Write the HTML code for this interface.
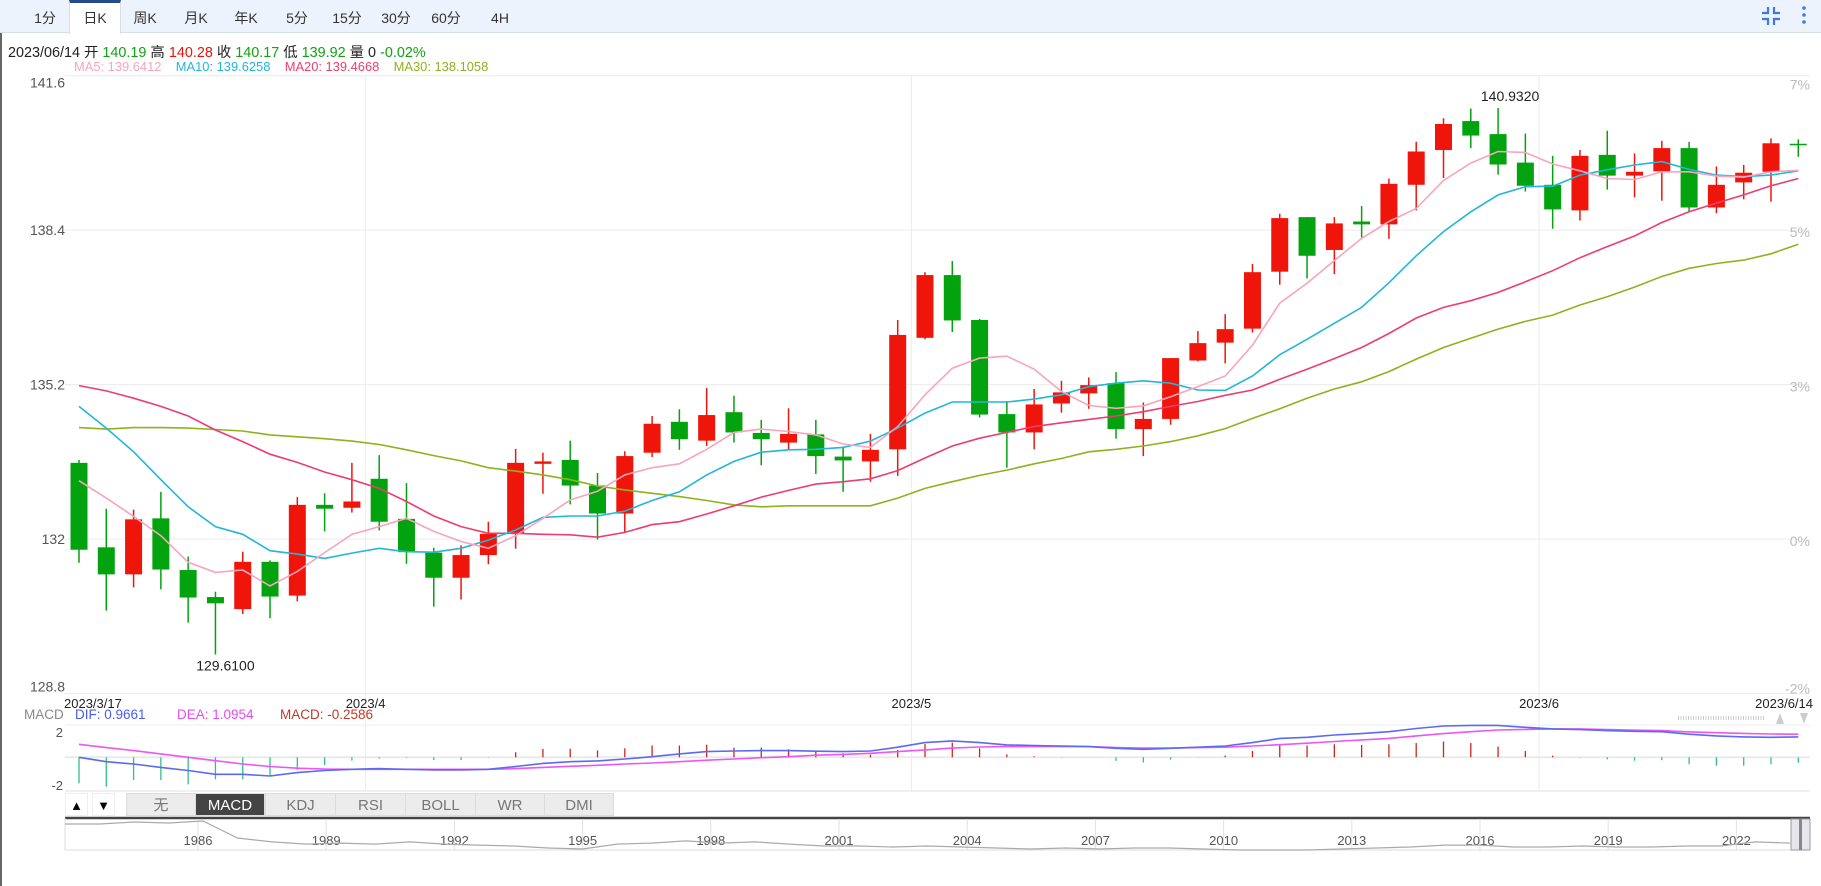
<!DOCTYPE html>
<html><head><meta charset="utf-8">
<style>
body{margin:0;background:#fff;}
#root{position:relative;width:1821px;height:886px;overflow:hidden;background:#fff;font-family:"Liberation Sans","Noto Sans CJK SC",sans-serif;}
.abs{position:absolute;}
#tabbar{left:0;top:0;width:1821px;height:33px;background:#edf3fc;border-bottom:1px solid #d8dee8;box-sizing:border-box;}
.tab{position:absolute;top:0;height:33px;line-height:36px;font-size:14px;color:#333;text-align:center;transform:translateX(-50%);white-space:nowrap;}
.tab.sel{background:#fff;border-top:3px solid #274a8c;border-left:1px solid #d8dee8;border-right:1px solid #d8dee8;height:31px;line-height:31px;box-sizing:content-box;}
#info{left:8px;top:41px;font-size:14.4px;color:#222;white-space:nowrap;}
#malegend{left:74px;top:59px;font-size:12.9px;white-space:nowrap;}
.g{color:#12a112}.r{color:#e8140c}
.btn{position:absolute;top:793px;height:23px;line-height:23px;font-size:15px;text-align:center;color:#777;background:#ececec;border:1px solid #dcdcdc;box-sizing:border-box;}
.btn.on{background:#444;color:#fff;}
.arrow{position:absolute;top:793px;height:23px;width:23px;line-height:23px;text-align:center;font-size:13px;color:#000;background:#fff;border:1px solid #eee;box-sizing:border-box;}
</style></head>
<body>
<div id="root">
  <div class="abs" style="left:0;top:0;width:2px;height:886px;background:#666"></div>
  <div id="tabbar" class="abs">
    <div class="tab" style="left:45px">1分</div>
    <div class="tab sel" style="left:95px;width:50px">日K</div>
    <div class="tab" style="left:145px">周K</div>
    <div class="tab" style="left:196px">月K</div>
    <div class="tab" style="left:246px">年K</div>
    <div class="tab" style="left:297px">5分</div>
    <div class="tab" style="left:347px">15分</div>
    <div class="tab" style="left:396px">30分</div>
    <div class="tab" style="left:446px">60分</div>
    <div class="tab" style="left:500px">4H</div>
    <svg class="abs" style="left:1760px;top:6px" width="22" height="20">
      <path d="M2 7 H8 V1 M20 7 H14 V1 M2 13 H8 V19 M20 13 H14 V19" stroke="#3d7be0" stroke-width="2.2" fill="none"/>
    </svg>
    <svg class="abs" style="left:1800px;top:5px" width="8" height="22">
      <circle cx="4" cy="3" r="1.8" fill="#3d7be0"/><circle cx="4" cy="10" r="1.8" fill="#3d7be0"/><circle cx="4" cy="17" r="1.8" fill="#3d7be0"/>
    </svg>
  </div>
  <div id="info" class="abs">2023/06/14 开 <span class="g">140.19</span> 高 <span class="r">140.28</span> 收 <span class="g">140.17</span> 低 <span class="g">139.92</span> 量 0 <span class="g">-0.02%</span></div>
  <div id="malegend" class="abs"><span style="color:#f7a4bd">MA5: 139.6412</span>&nbsp;&nbsp;&nbsp; <span style="color:#22b6d8">MA10: 139.6258</span>&nbsp;&nbsp;&nbsp; <span style="color:#ec3d72">MA20: 139.4668</span>&nbsp;&nbsp;&nbsp; <span style="color:#8db31c">MA30: 138.1058</span></div>

  <svg id="chart" class="abs" style="left:0;top:0" width="1821" height="886"></svg>

  <div class="arrow" style="left:65px">▲</div>
  <div class="arrow" style="left:92px">▼</div>
  <div class="btn" style="left:126px;width:70px">无</div>
  <div class="btn on" style="left:195px;width:70px">MACD</div>
  <div class="btn" style="left:265px;width:71px">KDJ</div>
  <div class="btn" style="left:335px;width:71px">RSI</div>
  <div class="btn" style="left:405px;width:71px">BOLL</div>
  <div class="btn" style="left:475px;width:70px">WR</div>
  <div class="btn" style="left:544px;width:70px">DMI</div>
</div>
<script>
const opens=[133.58,131.83,131.27,132.43,131.36,130.80,130.55,131.53,130.83,132.71,132.65,133.25,132.42,131.72,131.20,131.67,132.11,133.56,133.64,133.11,132.53,133.79,134.43,134.04,134.63,134.20,134.00,134.17,133.71,133.61,133.86,136.17,137.47,136.54,134.59,134.21,134.81,135.02,135.23,134.28,134.49,135.70,136.07,136.36,137.54,138.67,137.99,138.58,138.52,139.34,140.06,140.66,140.39,139.80,139.34,138.81,139.96,139.53,139.62,140.10,138.87,139.39,139.61,140.19];
const closes=[131.78,131.27,132.41,131.37,130.79,130.67,131.53,130.81,132.71,132.63,132.78,132.36,131.73,131.20,131.67,132.11,133.58,133.61,133.11,132.53,133.72,134.39,134.07,134.57,134.21,134.07,134.18,133.72,133.63,133.85,136.23,137.47,136.53,134.58,134.21,134.79,135.04,135.19,134.28,134.49,135.75,136.06,136.35,137.53,138.65,137.87,138.54,138.52,139.36,140.03,140.60,140.36,139.76,139.32,138.83,139.94,139.53,139.61,140.10,138.87,139.34,139.59,140.20,140.17];
const highs=[133.64,132.63,132.61,132.98,131.64,130.91,131.74,131.56,132.87,132.95,133.58,133.74,133.16,131.82,131.87,132.36,133.87,133.79,134.04,133.37,133.82,134.55,134.69,135.13,134.97,134.47,134.71,134.47,133.92,134.18,136.54,137.53,137.76,136.56,134.86,135.11,135.28,135.35,135.46,134.83,135.75,136.31,136.66,137.70,138.74,138.67,138.67,138.90,139.47,140.23,140.72,140.92,140.93,140.40,139.94,140.06,140.46,139.99,140.25,140.23,139.72,139.75,140.30,140.28];
const lows=[131.51,130.52,131.00,130.96,130.27,129.61,130.45,130.36,130.71,132.16,132.55,132.18,131.49,130.60,130.75,131.48,131.80,132.94,132.72,131.99,132.14,133.70,133.85,133.93,134.00,133.53,133.86,133.35,132.98,133.19,133.31,136.14,136.29,134.52,133.48,133.86,134.62,134.70,134.08,133.72,134.37,135.68,135.64,136.28,137.27,137.40,137.49,138.25,138.22,138.81,139.48,140.10,139.55,139.20,138.43,138.60,139.24,139.08,139.01,138.78,138.75,139.04,138.99,139.92];
const ma5=[133.21,132.85,132.47,132.07,131.52,131.31,131.36,131.03,131.33,131.72,132.10,132.26,132.43,132.16,131.95,131.81,132.07,132.43,132.81,132.99,133.33,133.48,133.56,133.86,134.21,134.28,134.23,134.16,133.97,133.90,134.33,134.99,135.54,135.75,135.79,135.52,135.06,134.77,134.71,134.76,134.95,135.16,135.38,136.02,136.89,137.30,137.77,138.23,138.58,138.85,139.43,139.79,140.03,140.01,139.77,139.63,139.47,139.45,139.61,139.61,139.52,139.50,139.61,139.64];
const ma10=[134.75,134.30,133.81,133.23,132.67,132.26,132.10,131.76,131.69,131.60,131.71,131.81,131.74,131.73,131.81,131.98,132.19,132.45,132.48,132.48,132.58,132.80,132.98,133.33,133.61,133.80,133.85,133.86,133.90,134.03,134.30,134.61,134.84,134.84,134.84,134.90,134.99,135.16,135.23,135.28,135.23,135.09,135.08,135.38,135.82,136.14,136.47,136.80,137.31,137.87,138.37,138.78,139.13,139.30,139.31,139.54,139.65,139.75,139.82,139.66,139.54,139.51,139.54,139.63];
const ma20=[135.18,135.07,134.92,134.75,134.55,134.26,134.02,133.76,133.59,133.39,133.23,133.05,132.78,132.48,132.26,132.12,132.12,132.10,132.09,132.04,132.14,132.30,132.36,132.52,132.69,132.87,133.01,133.14,133.19,133.25,133.42,133.68,133.93,134.09,134.21,134.33,134.41,134.48,134.55,134.64,134.75,134.85,134.98,135.09,135.31,135.52,135.74,135.97,136.26,136.58,136.80,136.94,137.11,137.33,137.56,137.83,138.06,138.28,138.56,138.78,138.96,139.13,139.32,139.47];
const ma30=[134.31,134.28,134.31,134.31,134.30,134.27,134.24,134.16,134.12,134.08,134.03,133.96,133.85,133.73,133.62,133.48,133.41,133.33,133.23,133.10,133.02,132.95,132.88,132.80,132.71,132.67,132.69,132.69,132.69,132.69,132.85,133.05,133.19,133.32,133.43,133.56,133.67,133.81,133.86,133.93,134.02,134.14,134.29,134.50,134.70,134.92,135.11,135.26,135.47,135.73,135.97,136.16,136.35,136.51,136.64,136.85,137.02,137.22,137.44,137.61,137.71,137.78,137.91,138.11];
const dif=[0.00,-0.21,-0.32,-0.48,-0.63,-0.81,-0.81,-0.89,-0.73,-0.63,-0.57,-0.54,-0.57,-0.60,-0.60,-0.57,-0.44,-0.29,-0.21,-0.17,-0.08,0.03,0.16,0.27,0.30,0.32,0.32,0.29,0.27,0.30,0.48,0.70,0.78,0.70,0.59,0.56,0.54,0.51,0.43,0.38,0.43,0.48,0.54,0.70,0.90,0.95,1.06,1.13,1.22,1.37,1.49,1.52,1.52,1.43,1.35,1.32,1.27,1.24,1.22,1.10,1.02,0.97,0.95,0.97];
const dea=[0.62,0.46,0.32,0.16,0.00,-0.16,-0.32,-0.44,-0.52,-0.56,-0.57,-0.57,-0.57,-0.57,-0.57,-0.57,-0.54,-0.48,-0.43,-0.38,-0.32,-0.27,-0.21,-0.14,-0.08,-0.02,0.03,0.10,0.14,0.19,0.27,0.35,0.44,0.49,0.51,0.51,0.51,0.51,0.46,0.44,0.44,0.46,0.48,0.54,0.60,0.67,0.75,0.83,0.90,1.02,1.13,1.22,1.30,1.33,1.35,1.35,1.32,1.29,1.27,1.21,1.17,1.14,1.11,1.10];
const macdHist=[-1.24,-1.40,-1.08,-1.08,-1.29,-1.05,-1.05,-0.92,-0.60,-0.37,-0.16,-0.06,-0.03,-0.13,-0.13,0.01,0.24,0.40,0.41,0.33,0.43,0.56,0.56,0.60,0.46,0.46,0.38,0.29,0.19,0.13,0.35,0.63,0.70,0.43,0.14,0.05,0.01,0.00,-0.17,-0.25,-0.11,-0.01,0.08,0.30,0.56,0.56,0.62,0.59,0.62,0.68,0.75,0.68,0.51,0.30,0.08,0.01,-0.10,-0.16,-0.14,-0.33,-0.40,-0.40,-0.33,-0.26];
const priceTicks=[141.6,138.4,135.2,132,128.8];
const priceTickLabels=['141.6','138.4','135.2','132','128.8'];
const pctTickLabels=['7%','5%','3%','0%','-2%'];
const monthTickIdx=[11,31,54];
const monthTickLabels=['2023/4','2023/5','2023/6'];
const firstDateLabel='2023/3/17';
const lastDateLabel='2023/6/14';
const navYears=['1986','1989','1992','1995','1998','2001','2004','2007','2010','2013','2016','2019','2022'];
const navValues=[238,238,250,244,256,153,129,116,122,116,129,116,110,104,92,86,116,122,135,122,129,116,104,104,98,104,98,92,86,92,86,92,92,86,80,80,80,86,92,98,110,110,98,98,104,98,98,104,104,129,122];

const NS='http://www.w3.org/2000/svg';
const svg=document.getElementById('chart');
function el(tag,attrs,parent){const e=document.createElementNS(NS,tag);for(const k in attrs)e.setAttribute(k,attrs[k]);(parent||svg).appendChild(e);return e;}
function txt(s,attrs){const t=el('text',attrs);t.textContent=s;return t;}

const PMAX=141.6,PMIN=128.8,YTOP=75.7,YBOT=693.6;
function xOf(i){return 79+i*27.29;}
function yOf(p){return YTOP+(PMAX-p)*(YBOT-YTOP)/(PMAX-PMIN);}
const MZERO=757.3,MSCALE=21;
function yM(v){return MZERO-v*MSCALE;}
const NAVX0=65,NAVX1=1790;
function xNav(i){return NAVX0+i*(NAVX1-NAVX0)/(navValues.length-1);}
function yNav(v){return 850-(v-80)*28/170;}

priceTicks.forEach((p,k)=>{
  const g=el('line',{x1:65,x2:1810,y1:yOf(p),y2:yOf(p),stroke:'#ececec','stroke-width':1});
  
  
  let ty=yOf(p)+5; if(k===0)ty=yOf(p)+12; if(k===priceTicks.length-1)ty=yOf(p)-2;
  const t=txt(priceTickLabels[k],{x:65,y:ty,'text-anchor':'end','font-size':14,fill:'#555','font-family':'Liberation Sans'});
  
  
  const t2=txt(pctTickLabels[k],{x:1810,y:ty+2,'text-anchor':'end','font-size':14,fill:'#bbb','font-family':'Liberation Sans'});
  
  
});
monthTickIdx.forEach((i,k)=>{
  const gx=xOf(i)-13.6;
  const l=el('line',{x1:gx,x2:gx,y1:76,y2:791,stroke:'#ececec','stroke-width':1});
  
  
  const t=txt(monthTickLabels[k],{x:gx,y:708,'text-anchor':'middle','font-size':13,fill:'#222','font-family':'Liberation Sans'});
  
  
});
const tf=txt(firstDateLabel,{x:64,y:708,'font-size':13,fill:'#222','font-family':'Liberation Sans'});


const tl=txt(lastDateLabel,{x:1813,y:708,'text-anchor':'end','font-size':13,fill:'#222','font-family':'Liberation Sans'});



for(let i=0;i<opens.length;i++){
  const up=closes[i]>=opens[i];
  const col=up?'#f0150a':'#03a30f';
  const x=xOf(i);
  const w=el('line',{x1:x,x2:x,y1:yOf(highs[i]),y2:yOf(lows[i]),stroke:col,'stroke-width':1.5});
  
  
  const top=yOf(Math.max(opens[i],closes[i])),bot=yOf(Math.min(opens[i],closes[i]));
  const b=el('rect',{x:x-8.5,y:top,width:17,height:Math.max(bot-top,1.5),fill:col});
  
  
}
[[ma30,'#8db31c','ma30-line'],[ma20,'#ec3d72','ma20-line'],[ma10,'#22b6d8','ma10-line'],[ma5,'#f7a4bd','ma5-line']].forEach(([arr,c,n])=>{
  const pts=arr.map((v,i)=>xOf(i).toFixed(1)+','+yOf(v).toFixed(1)).join(' ');
  const pl=el('polyline',{points:pts,fill:'none',stroke:c,'stroke-width':1.6});
  
  
});
let hiI=0,loI=0;highs.forEach((v,i)=>{if(v>highs[hiI])hiI=i;});lows.forEach((v,i)=>{if(v<lows[loI])loI=i;});
const hl=txt('140.9320',{x:xOf(hiI)+12,y:yOf(highs[hiI])-7,'text-anchor':'middle','font-size':14,fill:'#222','font-family':'Liberation Sans'});


const ll=txt('129.6100',{x:xOf(loI)+10,y:yOf(lows[loI])+16,'text-anchor':'middle','font-size':14,fill:'#222','font-family':'Liberation Sans'});



[[725,'#eee'],[791,'#e2e2e2']].forEach(([y,c])=>{
  const l=el('line',{x1:65,x2:1810,y1:y,y2:y,stroke:c,'stroke-width':1});
  
  
});
const zl=el('line',{x1:65,x2:1810,y1:yM(0),y2:yM(0),stroke:'#eaeaea','stroke-width':2});


const ml=el('text',{y:719,'font-size':13.5,'font-family':'Liberation Sans'});


[['MACD',24,'#888'],['DIF: 0.9661',75,'#4b5cf0'],['DEA: 1.0954',177,'#e44cf0'],['MACD: -0.2586',280,'#c0392b']].forEach(([s,x,c])=>{
  const ts=el('tspan',{x:x,fill:c},ml);ts.textContent=s;
});
const m2=txt('2',{x:63,y:737,'text-anchor':'end','font-size':13,fill:'#555','font-family':'Liberation Sans'});


const m3=txt('-2',{x:63,y:790,'text-anchor':'end','font-size':13,fill:'#555','font-family':'Liberation Sans'});


macdHist.forEach((v,i)=>{
  const l=el('line',{x1:xOf(i),x2:xOf(i),y1:yM(0),y2:yM(v),stroke:v>=0?'#c8281c':'#2fbf8f','stroke-width':1.3});
  
  
});
[[dea,'#ee55f5','dea-line'],[dif,'#5a6af2','dif-line']].forEach(([arr,c,n])=>{
  const pts=arr.map((v,i)=>xOf(i).toFixed(1)+','+yM(v).toFixed(1)).join(' ');
  const pl=el('polyline',{points:pts,fill:'none',stroke:c,'stroke-width':1.6});
  
  
});
const dots=el('line',{x1:1678,x2:1765,y1:718,y2:718,stroke:'#ccc','stroke-width':4,'stroke-dasharray':'1 1.5'});


const ua=el('path',{d:'M1776 724 L1780 713 L1784 724 Z',fill:'#ccc'});


const da=el('path',{d:'M1800 713 L1808 713 L1804 724 Z',fill:'#ccc'});



const nt=el('line',{x1:65,x2:1810,y1:818,y2:818,stroke:'#444','stroke-width':2.5});


const nb=el('line',{x1:65,x2:1810,y1:850,y2:850,stroke:'#ddd','stroke-width':1});


const nl=el('line',{x1:65,x2:65,y1:818,y2:850,stroke:'#ddd','stroke-width':1});


navYears.forEach((y,k)=>{
  const x=198+k*128.2;
  const l=el('line',{x1:x,x2:x,y1:819,y2:850,stroke:'#e2e2e2','stroke-width':1});
  
  
  const t=txt(y,{x:x,y:845,'text-anchor':'middle','font-size':13,fill:'#555','font-family':'Liberation Sans'});
  
  
});
const np=el('polyline',{points:navValues.map((v,i)=>xNav(i).toFixed(1)+','+yNav(v).toFixed(1)).join(' '),fill:'none',stroke:'#aaa','stroke-width':1.2});


const h=el('rect',{x:1791,y:819,width:19,height:31,fill:'#e6e6ec',stroke:'#999','stroke-width':1});


const hb=el('rect',{x:1799,y:819,width:3,height:31,fill:'#888'});


</script>
</body></html>
